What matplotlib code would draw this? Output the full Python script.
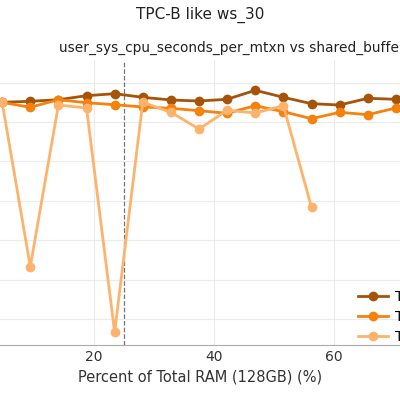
import matplotlib
matplotlib.use("Agg")
import matplotlib.pyplot as plt

x = [4.6875 * k for k in range(1, 16)]
dark = [102.3, 101.3, 99.7, 95.7, 93.7, 97.3, 100, 101, 99.3, 90.3, 97.3, 103.7, 105, 98.3, 99.3]
med = [102.3, 107.3, 99.7, 102.7, 104.7, 107, 108.3, 110.7, 113.3, 105.7, 111.7, 118.7, 112.3, 114.7, 108]
light = [102.3, 266.7, 105, 108, 332.3, 102.3, 112.3, 129, 110.3, 113, 105.7, 207.3]
dark = [345 - v for v in dark]
med = [345 - v for v in med]
light = [345 - v for v in light]
labels = ["TPC-B like ws_30 series 1", "TPC-B like ws_30 series 2", "TPC-B like ws_30 series 3"]

fig = plt.figure(figsize=(4, 4), dpi=100)
ax = fig.add_axes([0, 0.1375, 1, 0.7125])
ax.set_xlim(4.33, 71)
ax.set_ylim(0, 285)
ax.set_yticks([262, 223, 184, 144, 105, 65, 26])
ax.set_xticks([20, 40, 60])
ax.tick_params(axis='y', length=0, labelleft=False)
ax.tick_params(axis='x', length=0, labelsize=10, colors='#333333')
ax.grid(True, color='#ebebeb', lw=0.8)
for s in ['top', 'right', 'left']:
    ax.spines[s].set_visible(False)
ax.spines['bottom'].set_color('#aaaaaa')
ax.axvline(25, color='#777777', ls='--', lw=0.9)
l1, = ax.plot(x, dark, '-o', color='#a6540a', lw=2, ms=6)
l2, = ax.plot(x, med, '-o', color='#f5820d', lw=2, ms=6)
l3, = ax.plot(x[:len(light)], light, '-o', color='#fdb36b', lw=2, ms=6)
ax.set_xlabel("Percent of Total RAM (128GB) (%)", fontsize=10.5, color='#333333')
fig.text(0.5, 1 - 15/400, "TPC-B like ws_30", ha='center', va='center', fontsize=11, color='#222222')
fig.text(59/400, 1 - 48/400, "user_sys_cpu_seconds_per_mtxn vs shared_buffers",
         ha='left', va='center', fontsize=9.9, color='#222222')
fig.legend([l1, l2, l3], labels, loc='upper left', bbox_to_anchor=(345/400, 1 - 277/400),
           frameon=False, fontsize=10, handlelength=2.2, labelspacing=0.45, handletextpad=0.5)
fig.savefig("out.png", dpi=100)
